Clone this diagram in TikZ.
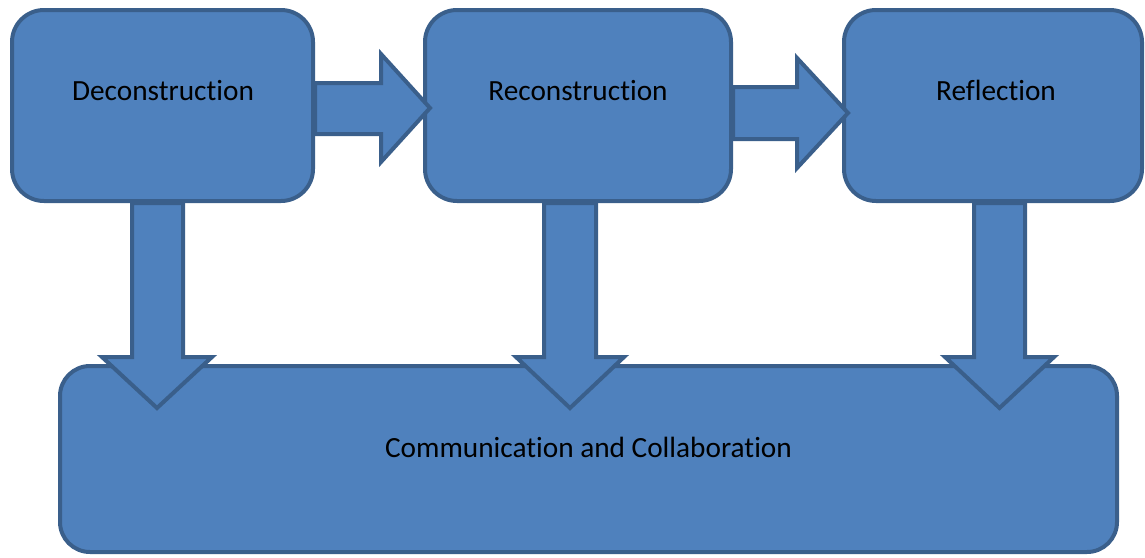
\documentclass[tikz,border=0pt]{standalone}
\usepackage{fontspec}
\setmainfont{Carlito}[Ligatures={NoCommon,NoContextual}]
\usetikzlibrary{calc}
\definecolor{fillc}{HTML}{4F81BD}
\definecolor{bordc}{HTML}{3A5F8B}
\tikzset{
  box/.style={draw=bordc, fill=fillc, line width=4pt, rounded corners=32pt, inner sep=0pt},
  blk/.style={draw=bordc, fill=fillc, line width=4pt, line join=miter},
  lbl/.style={font=\fontsize{29.3}{34}\selectfont, text=black, inner sep=0pt}
}
\begin{document}
\begin{tikzpicture}[x=1pt,y=-1pt]
\useasboundingbox (0,0) rectangle (1145,557);
% boxes
\node[box, minimum width=301pt, minimum height=191pt] (d) at (162.5,105.5) {};
\node[box, minimum width=306pt, minimum height=191pt] (r) at (578,105.5) {};
\node[box, minimum width=298pt, minimum height=191pt] (f) at (993,105.5) {};
\node[box, minimum width=1057pt, minimum height=186pt, rounded corners=30pt] (c) at (588.5,459) {};
% right arrows
\draw[blk] (d.east |- 0,83) -- (381,83) -- (381,54) -- (430,108) -- (381,162) -- (381,134) -- (d.east |- 0,134) -- cycle;
\draw[blk] (r.east |- 0,87) -- (797,87) -- (797,58) -- (848,113) -- (797,168) -- (797,139) -- (r.east |- 0,139) -- cycle;
% down arrows
\draw[blk] (132,0 |- d.south) -- (132,357) -- (102,357) -- (157,408) -- (212,357) -- (183,357) -- (183,0 |- d.south) -- cycle;
\draw[blk] (544,0 |- r.south) -- (544,357) -- (516,357) -- (570,408) -- (624,357) -- (596,357) -- (596,0 |- r.south) -- cycle;
\draw[blk] (974,0 |- f.south) -- (974,357) -- (945,357) -- (999.5,408) -- (1054,357) -- (1025,357) -- (1025,0 |- f.south) -- cycle;
% labels
\node[lbl] (dl) at (163,91) {Deconstruction};
\node[lbl] (rl) at (578,91) {Reconstruction};
\node[lbl] (fl) at (996,90) {Reflection};
\node[lbl] (cl) at (588.5,447) {Communication and Collaboration};
\end{tikzpicture}
\end{document}
